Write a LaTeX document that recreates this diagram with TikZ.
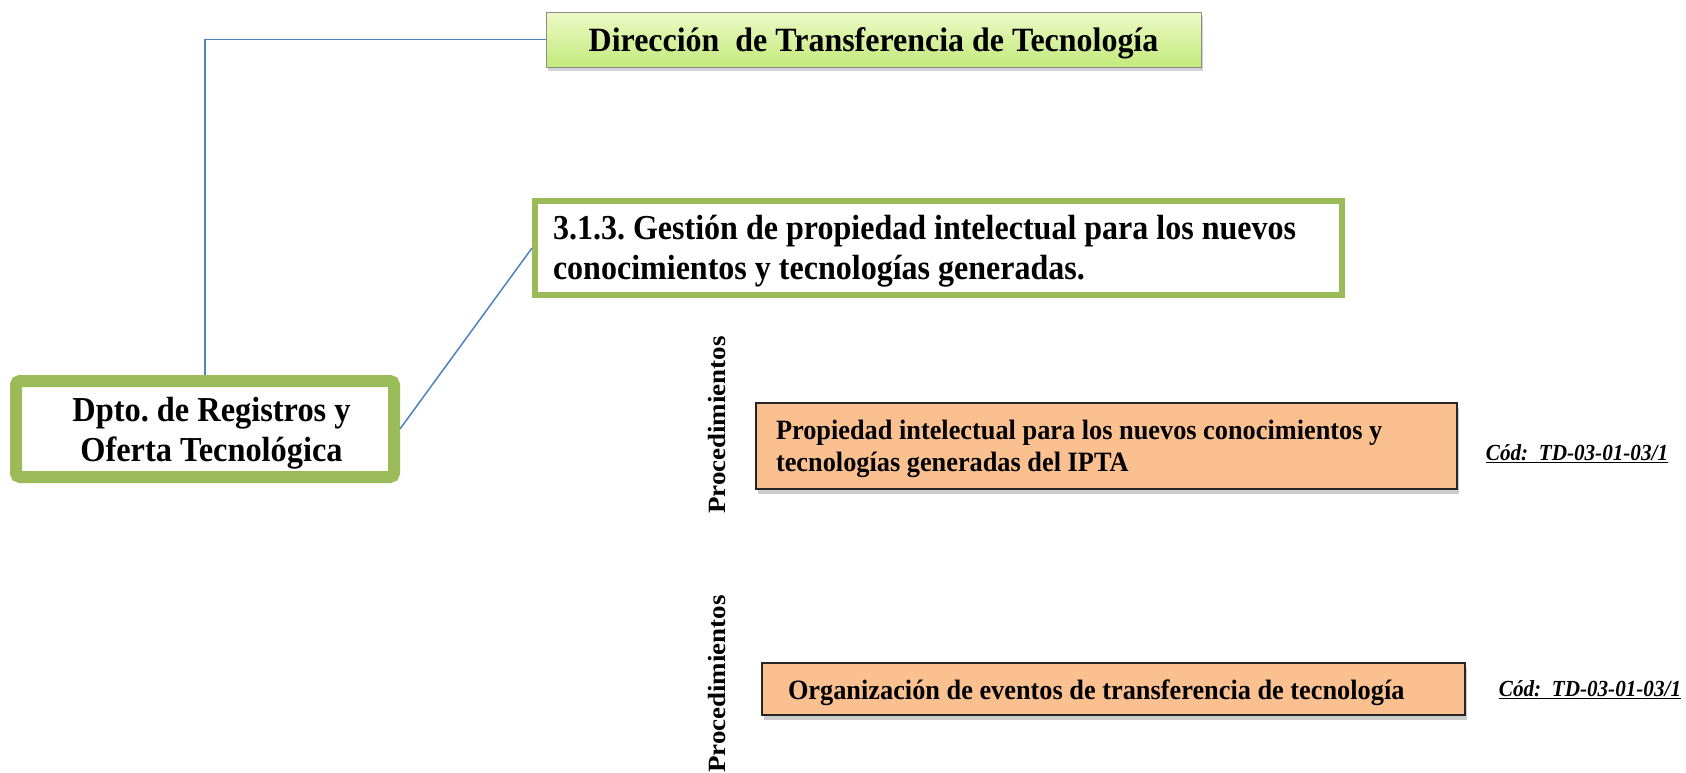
\documentclass[tikz,border=0pt]{standalone}
\usepackage{fontspec}
\setmainfont{Liberation Serif}
\newfontfamily\cf[FakeStretch=0.94]{Liberation Serif}
\newfontfamily\cfd[FakeStretch=0.925]{Liberation Serif}
\newfontfamily\cfb[FakeStretch=0.915]{Liberation Serif}
\newfontfamily\cfc[FakeStretch=0.92]{Liberation Serif}
\usetikzlibrary{shadows}
\definecolor{ogreen}{HTML}{9BBB59}
\definecolor{lnblue}{HTML}{4F81BD}
\definecolor{peach}{HTML}{FAC090}
\definecolor{lgA}{HTML}{EEF9C6}
\definecolor{lgB}{HTML}{C2EA7C}
\newcommand{\dropby}[2]{\raisebox{-#1}[\height][\depth]{#2}}
\newcommand{\lines}[1]{\begin{tabular}{@{}l@{}}#1\end{tabular}}
\newcommand{\clines}[1]{\begin{tabular}{@{}c@{}}#1\end{tabular}}
\frenchspacing
\tikzset{
  topbox/.style={draw=black!45, line width=0.8pt, top color=lgA, bottom color=lgB,
    drop shadow={shadow xshift=2pt, shadow yshift=-4pt, opacity=0.35},
    minimum width=655pt, minimum height=55pt, inner sep=0pt,
    font=\cf\bfseries\fontsize{34}{38}\selectfont},
  greenbox/.style={draw=ogreen, fill=white, inner sep=0pt},
  orangebox/.style={draw=black!85, line width=1.5pt, fill=peach,
    drop shadow={shadow xshift=2pt, shadow yshift=-5pt, opacity=0.4},
    font=\cf\bfseries\fontsize{28}{32}\selectfont, inner ysep=0pt},
  conn/.style={draw=lnblue, line width=1.5pt},
  proc/.style={rotate=90, inner sep=0pt, font=\bfseries\fontsize{27}{30}\selectfont},
  code/.style={inner sep=0pt, font=\cfc\bfseries\itshape\fontsize{23}{26}\selectfont}
}
\begin{document}
\begin{tikzpicture}[x=1pt,y=1pt]
\useasboundingbox (0,0) rectangle (1686,-772);

\node[topbox] (dir) at (873.5,-39.5) {\dropby{4pt}{Dirección\ \ de Transferencia de Tecnología}};

\node[greenbox, line width=12pt, rounded corners=4pt, minimum width=378pt,
  minimum height=96pt, font=\cfd\bfseries\fontsize{35}{40}\selectfont]
  (dpto) at (205,-429) {\hspace*{13pt}\dropby{4pt}{\clines{Dpto. de Registros y\\Oferta Tecnológica}}};

\node[greenbox, line width=6pt, minimum width=807pt, minimum height=94pt,
  inner xsep=18pt, font=\cfb\bfseries\fontsize{35}{40}\selectfont]
  (gest) at (938.5,-248) {\dropby{3pt}{\makebox[771pt][l]{\lines{3.1.3. Gestión de propiedad intelectual para los nuevos\\conocimientos y tecnologías generadas.}}}};

\draw[conn] (dir.west) -| (dpto.north);
\draw[conn] (dpto.east) -- (gest.west);

\node[proc] (p1) at (717,-425) {\scalebox{1}[0.92]{Procedimientos}};
\node[proc] (p2) at (717,-684) {\scalebox{1}[0.92]{Procedimientos}};

\node[orangebox, minimum width=701pt, minimum height=86pt, inner xsep=20pt]
  (o1) at (1106.5,-446) {\dropby{3pt}{\makebox[661pt][l]{\lines{Propiedad intelectual para los nuevos conocimientos y\\tecnologías generadas del IPTA}}}};
\node[orangebox, minimum width=703pt, minimum height=52pt, inner xsep=26pt]
  (o2) at (1113.5,-689) {\dropby{4pt}{\makebox[651pt][l]{Organización de eventos de transferencia de tecnología}}};

\node[code] (c1) at (1577,-454) {\underline{Cód:\ \ TD-03-01-03/1}};
\node[code] (c2) at (1590,-690) {\underline{Cód:\ \ TD-03-01-03/1}};
\end{tikzpicture}
\end{document}
